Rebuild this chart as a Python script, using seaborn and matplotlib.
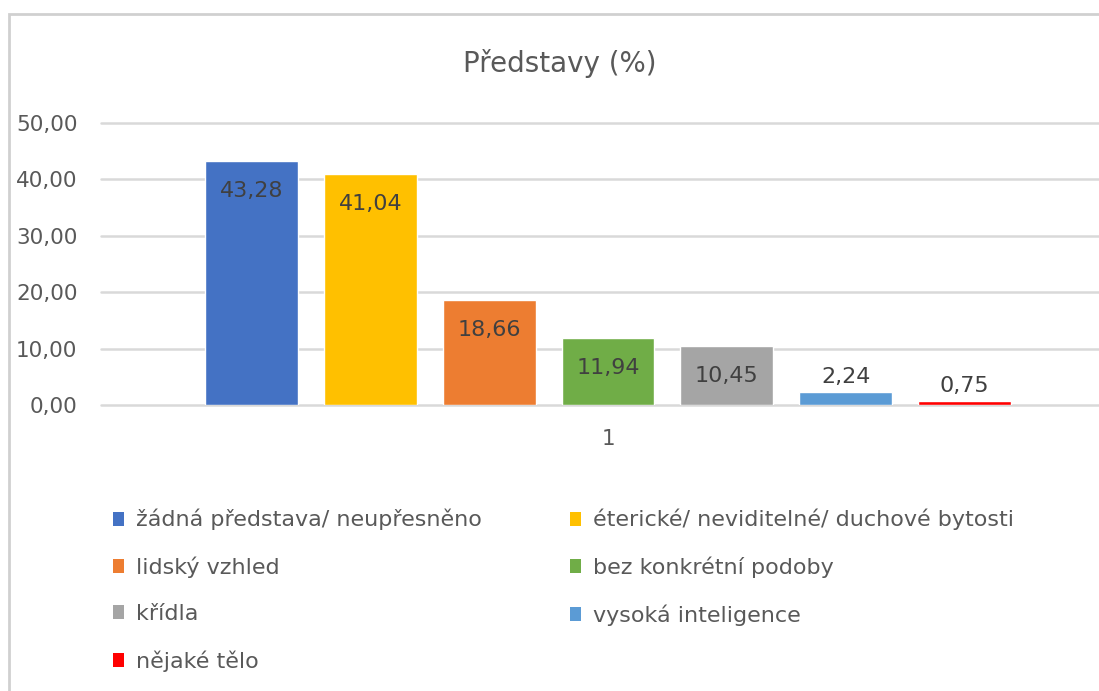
import matplotlib
matplotlib.use("Agg")
import matplotlib.pyplot as plt
import matplotlib.patches as mpatches
import pandas as pd
import seaborn as sb

kategorie = [
    "žádná představa/ neupřesněno",
    "éterické/ neviditelné/ duchové bytosti",
    "lidský vzhled",
    "bez konkrétní podoby",
    "křídla",
    "vysoká inteligence",
    "nějaké tělo",
]
hodnoty = [43.28, 41.04, 18.66, 11.94, 10.45, 2.24, 0.75]
skupina = ["1"] * len(kategorie)
barvy = ["#4472C4", "#FFC000", "#ED7D31", "#70AD47", "#A5A5A5", "#5B9BD5", "#FF0000"]
y_ticks = [0, 10, 20, 30, 40, 50]

df = pd.DataFrame({"skupina": skupina, "kategorie": kategorie, "hodnota": hodnoty})

sb.set_style("white")
plt.rcParams["font.family"] = ["DejaVu Sans"]
seda = "#595959"

fig = plt.figure(figsize=(10.99, 6.91), dpi=100)
# light frame of the chart area
fig.patches.append(mpatches.Rectangle((9 / 1099, -0.05), 1.2, 1.05 - 14 / 691,
                                      transform=fig.transFigure, fill=False,
                                      edgecolor="#d0d0d0", lw=2))

ax = fig.add_axes([101 / 1099, 286 / 691, 1014 / 1099, 282 / 691])
sb.barplot(data=df, x="skupina", y="hodnota", hue="kategorie", hue_order=kategorie,
           palette=barvy, saturation=1, width=0.82, gap=0.22, legend=False, ax=ax)

ax.set_xlim(-0.5, 0.5)
ax.set_ylim(0, 50)
ax.set_yticks(y_ticks)
ax.yaxis.set_major_formatter(plt.FuncFormatter(lambda v, p: f"{v:.2f}".replace(".", ",")))
ax.grid(axis="y", color="#d9d9d9", lw=1.8)
for gl in ax.get_ygridlines():
    gl.set_clip_on(False)
ax.set_axisbelow(True)
for s in ax.spines.values():
    s.set_visible(False)
ax.tick_params(axis="y", length=0, pad=17, labelsize=15.5, labelcolor=seda)
ax.tick_params(axis="x", length=0, pad=17, labelsize=15.5, labelcolor=seda)
ax.set_xlabel("")
ax.set_ylabel("")

for cont in ax.containers:
    for bar in cont:
        h = bar.get_height()
        txt = f"{h:.2f}".replace(".", ",")
        cx = bar.get_x() + bar.get_width() / 2
        if h > 5:
            ax.annotate(txt, (cx, h), xytext=(0, -30), textcoords="offset pixels",
                        ha="center", va="center", fontsize=16, color="#404040")
        else:
            ax.annotate(txt, (cx, h), xytext=(0, 5), textcoords="offset pixels",
                        ha="center", va="bottom", fontsize=16, color="#404040")

fig.text(560 / 1099, 1 - 63 / 691, "Představy (%)", ha="center", va="center",
         fontsize=20, color=seda)

handles = [mpatches.Patch(facecolor=c, edgecolor="none") for c in barvy]
leg_kw = dict(loc="upper left", frameon=False, fontsize=16, borderpad=0, borderaxespad=0,
              handlelength=0.5, handleheight=0.6, handletextpad=0.55,
              labelspacing=1.17, labelcolor=seda)
leg1 = fig.legend([handles[i] for i in (0, 2, 4, 6)], [kategorie[i] for i in (0, 2, 4, 6)],
                  bbox_to_anchor=(113 / 1099, 1 - 509 / 691), **leg_kw)
leg2 = fig.legend([handles[i] for i in (1, 3, 5)], [kategorie[i] for i in (1, 3, 5)],
                  bbox_to_anchor=(570 / 1099, 1 - 509 / 691), **leg_kw)

fig.savefig("out.png", dpi=100)
